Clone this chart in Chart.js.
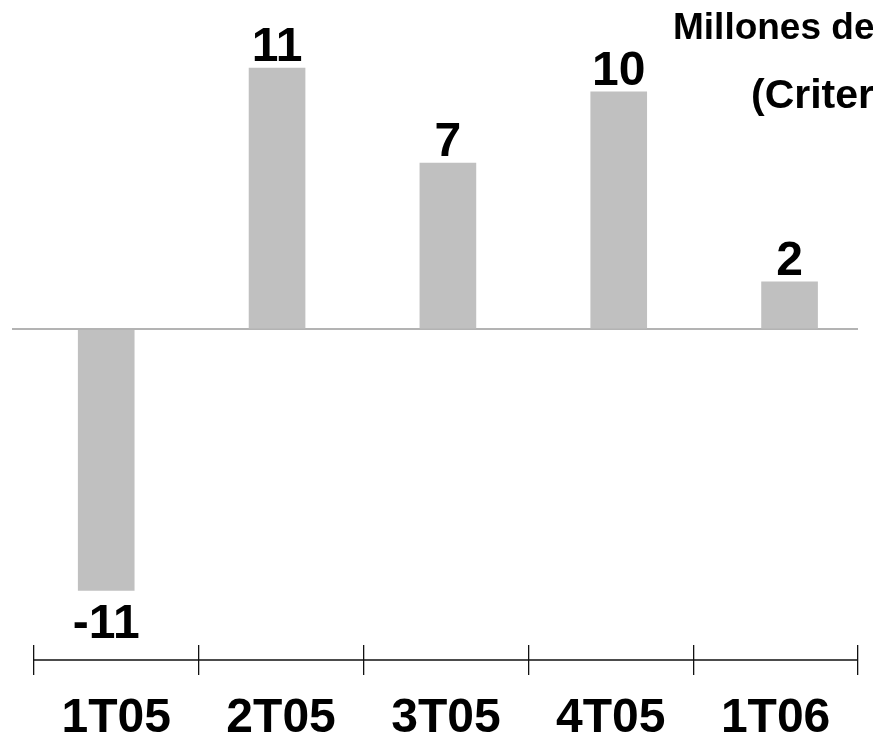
<!DOCTYPE html>
<html>
<head>
<meta charset="utf-8">
<script src="https://cdn.jsdelivr.net/npm/chart.js@4"></script>
<style>
  html, body { margin: 0; padding: 0; background: #fff; overflow: hidden; }
  #wrap { position: relative; width: 873px; height: 742px; }
</style>
</head>
<body>
<div id="wrap"><canvas id="c"></canvas></div>
<script>
// Quarterly figures (millions of euros)
const quarters = ['1T05', '2T05', '3T05', '4T05', '1T06'];
const values = [-11, 11, 7, 10, 2];
const titleLines = ['Millones de euros', '(Criterio NIIF)'];

const FONT = '"Liberation Sans", Arial, Helvetica, sans-serif';
Chart.defaults.font.family = FONT;

// Draws the unit caption, the bottom axis rule and the value labels
const decorations = {
  id: 'decorations',
  afterDraw(chart) {
    const ctx = chart.ctx;
    const x2 = chart.scales.x2;
    ctx.save();

    // bottom axis rule between the first and last tick
    const tl = x2.options.grid.tickLength;
    const yAxis = x2.top + tl / 2;
    ctx.strokeStyle = '#111';
    ctx.lineWidth = 1.3;
    ctx.beginPath();
    ctx.moveTo(x2.getPixelForValue(0), yAxis);
    ctx.lineTo(x2.getPixelForValue(quarters.length), yAxis);
    ctx.stroke();

    // value labels
    ctx.fillStyle = '#000';
    ctx.font = 'bold 48px ' + FONT;
    ctx.textAlign = 'center';
    ctx.textBaseline = 'alphabetic';
    const meta = chart.getDatasetMeta(0);
    meta.data.forEach((bar, i) => {
      const v = values[i];
      const y = v >= 0 ? bar.y - 7 : bar.y + 47;
      ctx.fillText(String(v), bar.x, y);
    });

    // unit caption, top right
    ctx.textAlign = 'left';
    ctx.font = 'bold 37px ' + FONT;
    ctx.fillText(titleLines[0], 673, 39);
    ctx.font = 'bold 41px ' + FONT;
    ctx.fillText(titleLines[1], 751, 108);

    ctx.restore();
  }
};

new Chart(document.getElementById('c'), {
  type: 'bar',
  data: {
    datasets: [{
      data: values.map((v, i) => ({ x: i, y: v })),
      xAxisID: 'x',
      yAxisID: 'y',
      backgroundColor: '#c0c0c0',
      borderWidth: 0,
      barThickness: 56
    }]
  },
  options: {
    responsive: true,
    maintainAspectRatio: false,
    animation: false,
    devicePixelRatio: 1,
    layout: { padding: { left: 12, right: 8, top: 0, bottom: 0 } },
    plugins: { legend: { display: false }, tooltip: { enabled: false } },
    scales: {
      x: {
        type: 'linear',
        display: false,
        offset: false,
        grid: { offset: false },
        min: -0.5515,
        max: 4.4006
      },
      x2: {
        type: 'linear',
        position: 'bottom',
        offset: false,
        min: -0.1324,
        max: quarters.length,
        afterBuildTicks(scale) {
          const t = [];
          for (let k = 0; k <= quarters.length * 2; k++) t.push({ value: k / 2 });
          scale.ticks = t;
        },
        afterFit(scale) { scale.height = 97; },
        border: { display: false },
        grid: {
          offset: false,
          drawOnChartArea: false,
          drawTicks: true,
          tickLength: 30,
          color: ctx => (ctx.tick && Number.isInteger(ctx.tick.value)) ? '#111' : 'rgba(0,0,0,0)',
          lineWidth: 1.3
        },
        ticks: {
          autoSkip: false,
          maxRotation: 0,
          minRotation: 0,
          padding: 15,
          color: '#000',
          font: { size: 48, weight: 'bold' },
          callback: v => Number.isInteger(v) ? '' : quarters[Math.floor(v)]
        }
      },
      y: {
        min: -13.293,
        max: 13.865,
        afterBuildTicks(scale) { scale.ticks = [{ value: 0 }]; },
        afterFit(scale) { scale.width = 0; },
        border: { display: false },
        grid: { drawTicks: false, color: '#b3b3b3', lineWidth: 2 },
        ticks: { display: false }
      }
    }
  },
  plugins: [decorations]
});
</script>
</body>
</html>
